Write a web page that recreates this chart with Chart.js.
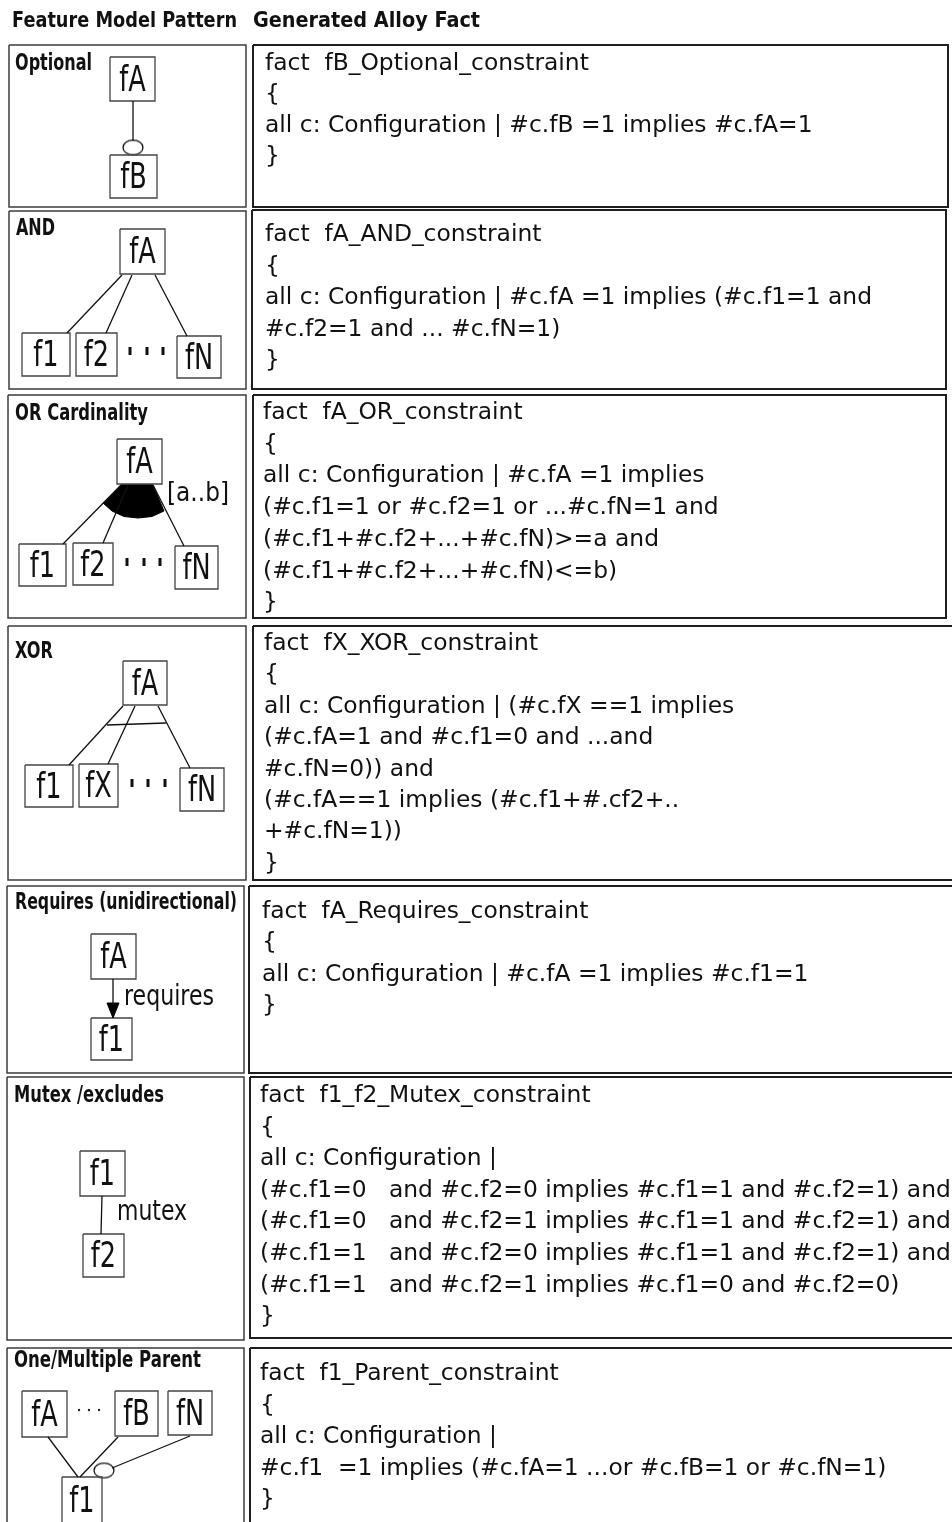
<!DOCTYPE html>
<html><head><meta charset="utf-8">
<script src="https://cdn.jsdelivr.net/npm/chart.js@4.4.0/dist/chart.umd.min.js"></script>
<style>html,body{margin:0;padding:0;background:#fff}canvas{display:block}</style>
</head><body>
<canvas id="c" width="952" height="1522"></canvas>
<script>
// ---------------- DATA (text content) ----------------
const headerLabels = ['Feature Model Pattern', 'Generated Alloy Fact'];
const patternNames = ['Optional', 'AND', 'OR Cardinality', 'XOR', 'Requires (unidirectional)', 'Mutex /excludes', 'One/Multiple Parent'];

const factOptional = ['fact  fB_Optional_constraint', '{', 'all c: Configuration | #c.fB =1 implies #c.fA=1', '}'];
const factAnd = ['fact  fA_AND_constraint', '{', 'all c: Configuration | #c.fA =1 implies (#c.f1=1 and', '#c.f2=1 and ... #c.fN=1)', '}'];
const factOr = ['fact  fA_OR_constraint', '{', 'all c: Configuration | #c.fA =1 implies', '(#c.f1=1 or #c.f2=1 or ...#c.fN=1 and', '(#c.f1+#c.f2+...+#c.fN)>=a and', '(#c.f1+#c.f2+...+#c.fN)<=b)', '}'];
const factXor = ['fact  fX_XOR_constraint', '{', 'all c: Configuration | (#c.fX ==1 implies', '(#c.fA=1 and #c.f1=0 and ...and', '#c.fN=0)) and', '(#c.fA==1 implies (#c.f1+#.cf2+..', '+#c.fN=1))', '}'];
const factRequires = ['fact  fA_Requires_constraint', '{', 'all c: Configuration | #c.fA =1 implies #c.f1=1', '}'];
const factMutex = ['fact  f1_f2_Mutex_constraint', '{', 'all c: Configuration |', '(#c.f1=0   and #c.f2=0 implies #c.f1=1 and #c.f2=1) and', '(#c.f1=0   and #c.f2=1 implies #c.f1=1 and #c.f2=1) and', '(#c.f1=1   and #c.f2=0 implies #c.f1=1 and #c.f2=1) and', '(#c.f1=1   and #c.f2=1 implies #c.f1=0 and #c.f2=0)', '}'];
const factParent = ['fact  f1_Parent_constraint', '{', 'all c: Configuration |', '#c.f1  =1 implies (#c.fA=1 ...or #c.fB=1 or #c.fN=1)', '}'];

const nodesOptional = ['fA', 'fB'];
const nodesAnd = ['fA', 'f1', 'f2', 'fN'];
const nodesOr = ['fA', 'f1', 'f2', 'fN'];
const nodesXor = ['fA', 'f1', 'fX', 'fN'];
const nodesRequires = ['fA', 'f1'];
const nodesMutex = ['f1', 'f2'];
const nodesParent = ['fA', 'fB', 'fN', 'f1'];
const edgeLabels = ['[a..b]', 'requires', 'mutex'];

// ---------------- LAYOUT (positions / sizes) ----------------
const facts = [factOptional, factAnd, factOr, factXor, factRequires, factMutex, factParent];
const nodeSets = [nodesOptional, nodesAnd, nodesOr, nodesXor, nodesRequires, nodesMutex, nodesParent];

const rowLayout = [
  {left:[9,246,45,207],   right:[253,948,45,207],   tx:265, base:70,   step:31,   title:[15,70,77]},
  {left:[9,246,211,389],  right:[252,946,210,389],  tx:265, base:241,  step:31.5, title:[16,235,39]},
  {left:[8,246,395,618],  right:[253,946,395,618],  tx:263, base:419,  step:31.7, title:[15,420,133]},
  {left:[8,246,626,880],  right:[253,954,626,880],  tx:264, base:650,  step:31.4, title:[15,658,38]},
  {left:[7,244,886,1073], right:[249,954,886,1073], tx:262, base:918,  step:31.3, title:[15,909,222]},
  {left:[7,244,1077,1340],right:[250,954,1077,1338],tx:260, base:1102, step:31.6, title:[14,1102,150]},
  {left:[7,244,1348,1524],right:[250,954,1348,1524],tx:260, base:1367, step:31.5, title:[14,1367,187]}
];
rowLayout[6].base = 1380;
const headerLayout = [[12,27,225],[253,27,227]];

const nodeBoxes = [
  [[110,155,57,101],[110,157,155,198]],
  [[120,165,229,274],[22,70,333,376],[76,117,333,376],[177,221,336,378]],
  [[117,162,439,484],[19,66,544,586],[73,113,543,585],[175,218,546,589]],
  [[123,167,661,705],[25,73,765,807],[79,118,764,807],[180,224,768,811]],
  [[91,136,934,979],[91,132,1018,1060]],
  [[80,125,1151,1196],[83,124,1234,1277]],
  [[22,67,1391,1437],[115,158,1391,1436],[168,212,1391,1435],[62,102,1477,1524]]
];
const edges = [
  [[133,101],[133,141]],
  [[122,275],[67,333]], [[132,275],[106,333]], [[155,275],[187,336]],
  [[121,485],[63,544]], [[128,485],[103,543]], [[153,485],[184,546]],
  [[123,706],[69,765]], [[135,706],[108,764]], [[158,706],[190,768]], [[107,725],[166,723]],
  [[113,979],[113,1005]],
  [[102,1196],[101,1234]],
  [[48,1437],[78,1477]], [[118,1437],[80,1477]], [[190,1436],[112,1468]]
];
const fanShape = [[121,485],[153,485],[164,511],[152,516.5],[138,518],[124,516.5],[112,511],[103,503]];
const arrowHead = [[107,1003],[119,1003],[113,1018]];
const ellipses = [[133,147.5],[104,1470.5]];
const barDots = [[130,351],[147,351],[163,351],[127,562],[144,562],[160,562],[132,783],[148,783],[165,783]];
const smallDots = [[79,1410],[89,1410],[99,1410]];
const edgeLabelLayout = [[167,501,62,26],[124,1005,90,29],[117,1220,70,28]];

// ---------------- BUILD DATASETS ----------------
function pts(arr){ return arr.map(p => ({x:p[0], y:p[1]})); }
function rectPts(b){ return pts([[b[0],b[2]],[b[1],b[2]],[b[1],b[3]],[b[0],b[3]],[b[0],b[2]]]); }
function lineDs(data, color, width){
  return {data, borderColor:color, borderWidth:width, pointRadius:0, fill:false, tension:0, showLine:true};
}
const datasets = [];
rowLayout.forEach(r => {
  datasets.push(lineDs(rectPts(r.left), '#3c3c3c', 1.5));
  datasets.push(lineDs(rectPts(r.right), '#1e1e1e', 2));
});
edges.forEach(e => datasets.push(lineDs(pts(e), '#111', 1.3)));
datasets.push({data:pts(fanShape.concat([fanShape[0]])), borderColor:'#000', borderWidth:1, backgroundColor:'#000', fill:'shape', pointRadius:0, tension:0});
datasets.push({data:pts(arrowHead.concat([arrowHead[0]])), borderColor:'#000', borderWidth:1, backgroundColor:'#000', fill:'shape', pointRadius:0, tension:0});
nodeBoxes.forEach(set => set.forEach(b => datasets.push(lineDs(rectPts(b), '#444', 1.3))));

// ellipse point image
const ell = document.createElement('canvas');
ell.width = 24; ell.height = 18;
(function(){ const g = ell.getContext('2d'); g.beginPath(); g.ellipse(12,9,10,7.3,0,0,Math.PI*2); g.fillStyle='#fff'; g.fill(); g.lineWidth=1.3; g.strokeStyle='#111'; g.stroke(); })();
datasets.push({data:pts(ellipses), showLine:false, pointStyle:ell, pointRadius:10});
datasets.push({data:pts(barDots), showLine:false, pointStyle:'line', rotation:90, pointRadius:4, pointBorderWidth:3, pointBorderColor:'#111', borderColor:'#111'});
datasets.push({data:pts(smallDots), showLine:false, pointStyle:'circle', pointRadius:1.2, pointBackgroundColor:'#222', pointBorderColor:'#222', pointBorderWidth:0});

// ---------------- TEXT PLUGIN ----------------
const textPlugin = {
  id: 'texts',
  beforeDraw(chart){ const c = chart.ctx; c.save(); c.fillStyle='#fff'; c.fillRect(0,0,chart.width,chart.height); c.restore(); },
  afterDatasetsDraw(chart){
    const ctx = chart.ctx;
    const X = v => chart.scales.x.getPixelForValue(v);
    const Y = v => chart.scales.y.getPixelForValue(v);
    function txt(s, x, y, font, opts){
      ctx.save();
      ctx.font = font;
      ctx.fillStyle = '#111';
      ctx.textBaseline = 'alphabetic';
      ctx.textAlign = 'left';
      const w = ctx.measureText(s).width;
      let sx = 1;
      if (opts && opts.width) sx = opts.width / w;
      if (opts && opts.sx) sx = opts.sx;
      ctx.translate(X(x), Y(y));
      ctx.scale(sx, 1);
      const off = (opts && opts.center) ? -w/2 : 0;
      ctx.fillText(s, off, 0);
      ctx.restore();
    }
    headerLabels.forEach((s,i) => { const h = headerLayout[i]; txt(s, h[0], h[1], 'bold 21px "DejaVu Sans"', {width:h[2]}); });
    patternNames.forEach((s,i) => { const t = rowLayout[i].title; txt(s, t[0], t[1], 'bold 23px "DejaVu Sans"', {width:t[2]}); });
    facts.forEach((lines,i) => {
      const r = rowLayout[i];
      lines.forEach((s,j) => txt(s, r.tx, r.base + j*r.step, '23.4px "DejaVu Sans"'));
    });
    nodeSets.forEach((labels,i) => labels.forEach((s,j) => {
      const b = nodeBoxes[i][j];
      txt(s, (b[0]+b[1])/2, (b[2]+b[3])/2 + 11.5, '35px "DejaVu Sans"', {sx:0.73, center:true});
    }));
    edgeLabels.forEach((s,i) => { const e = edgeLabelLayout[i]; txt(s, e[0], e[1], e[3]+'px "DejaVu Sans"', {width:e[2]}); });
  }
};

new Chart(document.getElementById('c'), {
  type: 'line',
  data: { datasets },
  options: {
    responsive: false,
    animation: false,
    devicePixelRatio: 1,
    events: [],
    layout: { padding: 0, autoPadding: false },
    plugins: { legend: {display:false}, tooltip: {enabled:false}, title:{display:false} },
    scales: {
      x: { type:'linear', min:0, max:952, display:false },
      y: { type:'linear', min:0, max:1522, reverse:true, display:false }
    }
  },
  plugins: [textPlugin]
});
</script>
</body></html>
